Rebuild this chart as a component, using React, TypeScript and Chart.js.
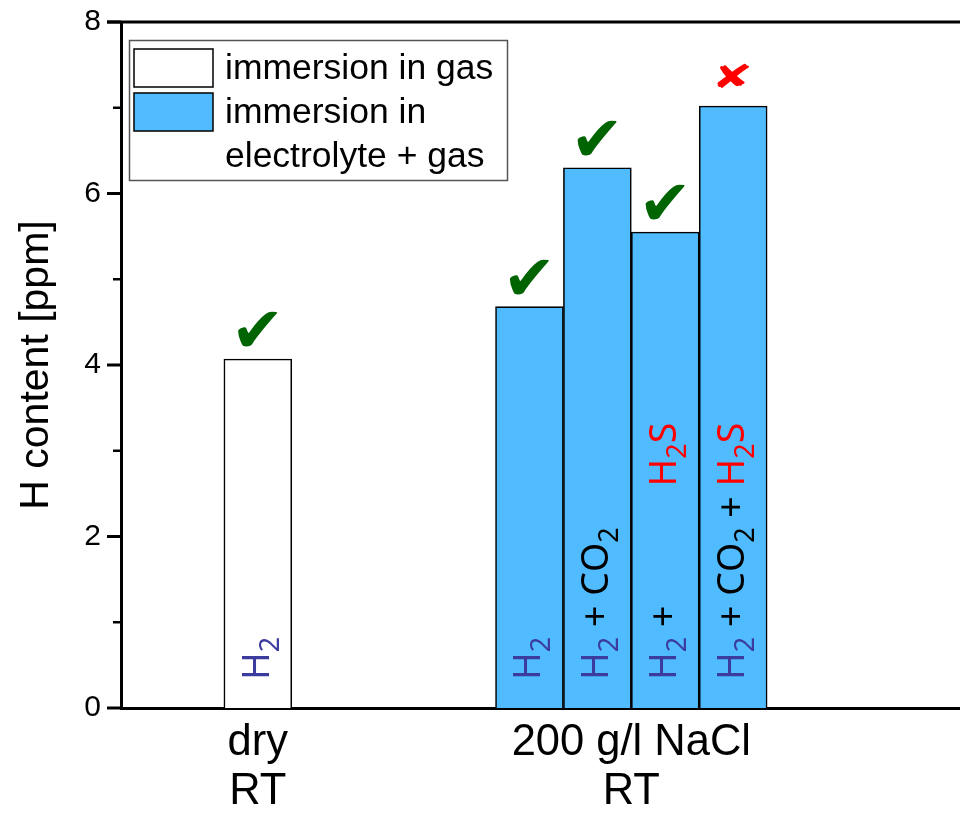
import React, { useEffect, useRef } from 'react';
import { Chart, registerables } from 'chart.js';

Chart.register(...registerables);

// ---- data ----
const categoryLabels: string[][] = [['dry', 'RT'], ['200 g/l NaCl', 'RT']];
const categoryCenters = [2, 7.5];
const seriesLabels = ['immersion in gas', 'immersion in\nelectrolyte + gas'];
const gasPositions = [2];
const gasValues = [4.07];
const electrolytePositions = [6, 7, 8, 9];
const electrolyteValues = [4.68, 6.3, 5.55, 7.02];
const yTickValues = [0, 2, 4, 6, 8];
const yMinorStep = 1;
// gas mixture per bar (dry first, then NaCl bars); "~" = placeholder kept invisible
const barGases: string[][] = [
  ['H2'],
  ['H2'],
  ['H2', '+', 'CO2'],
  ['H2', '+', '~CO2', '~+', 'H2S'],
  ['H2', '+', 'CO2', '+', 'H2S'],
];
const barVerdicts = ['ok', 'ok', 'ok', 'ok', 'fail'];

// ---- styles ----
const SANS = '"Liberation Sans", Arial, sans-serif';
const NOTO = '"Noto Sans", "DejaVu Sans", sans-serif';
const BLUE = '#50bcff';
const NAVY = '#3c3c9e';
const RED = '#ff0000';
const GREEN = '#006400';
const MAIN_FONT = `37.5px ${NOTO}`;
const SUB_FONT = `27px ${NOTO}`;

function drawMix(ctx: CanvasRenderingContext2D, tokens: string[], ox: number, oy: number) {
  ctx.save();
  ctx.translate(ox, oy);
  ctx.rotate(-Math.PI / 2);
  ctx.textAlign = 'left';
  ctx.textBaseline = 'alphabetic';
  let pos = 0;
  tokens.forEach((raw, ti) => {
    const hidden = raw.startsWith('~');
    const tok = hidden ? raw.slice(1) : raw;
    if (ti > 0) {
      ctx.font = MAIN_FONT;
      pos += ctx.measureText(' ').width;
    }
    const color = tok === 'H2' ? NAVY : tok === 'H2S' ? RED : '#000';
    for (const ch of tok) {
      const sub = /\d/.test(ch);
      ctx.font = sub ? SUB_FONT : MAIN_FONT;
      if (!hidden) {
        ctx.fillStyle = color;
        ctx.fillText(ch, pos, sub ? 10 : 0);
      }
      pos += ctx.measureText(ch).width;
    }
  });
  ctx.restore();
}

const decorPlugin = {
  id: 'decor',
  afterDatasetsDraw(chart: any) {
    const { ctx, chartArea } = chart;
    const bars = [
      ...chart.getDatasetMeta(0).data,
      ...chart.getDatasetMeta(1).data,
    ];
    bars.forEach((bar: any, i: number) => {
      drawMix(ctx, barGases[i], bar.x + 11, chartArea.bottom - 28);
    });
    bars.forEach((bar: any, i: number) => {
      const ok = barVerdicts[i] === 'ok';
      const glyph = ok ? '\u2714' : '\u2718';
      ctx.save();
      ctx.font = ok ? `64px "DejaVu Sans"` : `40px "DejaVu Sans"`;
      ctx.fillStyle = ok ? GREEN : RED;
      ctx.textAlign = 'left';
      ctx.textBaseline = 'alphabetic';
      const m = ctx.measureText(glyph);
      const w = m.actualBoundingBoxLeft + m.actualBoundingBoxRight;
      const gap = ok ? 12 : 18;
      const sx = ok ? 1 : 1.25;
      const sy = ok ? 1 : 0.82;
      ctx.translate(bar.x, bar.y - gap);
      ctx.scale(sx, sy);
      ctx.fillText(glyph, -w / 2 + m.actualBoundingBoxLeft, -m.actualBoundingBoxDescent);
      ctx.restore();
    });
  },
  afterDraw(chart: any) {
    const { ctx, chartArea } = chart;
    const yScale = chart.scales.y;
    ctx.save();
    ctx.strokeStyle = '#000';
    ctx.lineWidth = 3;
    ctx.beginPath();
    ctx.moveTo(chartArea.left - 14, chartArea.top);
    ctx.lineTo(chartArea.right, chartArea.top);
    ctx.stroke();
    for (let v = yScale.min; v <= yScale.max + 1e-9; v += yMinorStep) {
      const major = yTickValues.includes(v);
      const py = yScale.getPixelForValue(v);
      ctx.lineWidth = major ? 3 : 2.5;
      ctx.beginPath();
      ctx.moveTo(chartArea.left - (major ? 14 : 8), py);
      ctx.lineTo(chartArea.left, py);
      ctx.stroke();
    }
    // legend box
    const bx = chartArea.left + 8;
    const by = chartArea.top + 18;
    ctx.lineWidth = 1.5;
    ctx.strokeStyle = '#555';
    ctx.strokeRect(bx + 0.5, by + 0.5, 378, 140);
    const ds = chart.data.datasets;
    const swatchY = [by + 9, by + 53];
    const lineH = 44;
    let line = 0;
    ctx.font = `35.5px ${SANS}`;
    ctx.textBaseline = 'middle';
    ctx.textAlign = 'left';
    ds.forEach((d: any, i: number) => {
      ctx.fillStyle = d.backgroundColor;
      ctx.fillRect(bx + 5, swatchY[i], 79, 38);
      ctx.strokeStyle = '#000';
      ctx.lineWidth = 1.5;
      ctx.strokeRect(bx + 5, swatchY[i], 79, 38);
      const lines = String(d.label).split('\n');
      lines.forEach((t) => {
        ctx.fillStyle = '#000';
        ctx.fillText(t, bx + 96, by + 29 + line * lineH);
        line++;
      });
    });
    ctx.restore();
  },
};

export default function App() {
  const ref = useRef<HTMLCanvasElement | null>(null);
  useEffect(() => {
    if (!ref.current) return;
    const chart = new Chart(ref.current, {
      type: 'bar',
      data: {
        datasets: [
          {
            label: seriesLabels[0],
            data: gasPositions.map((x, i) => ({ x, y: gasValues[i] })),
            backgroundColor: '#ffffff',
            borderColor: '#000',
            borderWidth: 1.6,
            borderSkipped: 'start',
            grouped: false,
            barPercentage: 1,
            categoryPercentage: 1,
          } as any,
          {
            label: seriesLabels[1],
            data: electrolytePositions.map((x, i) => ({ x, y: electrolyteValues[i] })),
            backgroundColor: BLUE,
            borderColor: '#000',
            borderWidth: 1.6,
            borderSkipped: 'start',
            grouped: false,
            barPercentage: 1,
            categoryPercentage: 1,
          } as any,
        ],
      },
      options: {
        animation: false,
        responsive: false,
        layout: { padding: { top: 22, right: 0, bottom: 0, left: 0 } },
        plugins: { legend: { display: false }, tooltip: { enabled: false } },
        scales: {
          x: {
            type: 'linear',
            offset: false,
            min: -0.015,
            max: 12.34,
            grid: { display: false, drawTicks: false, offset: false },
            border: { display: true, width: 3, color: '#000' },
            afterBuildTicks: (s: any) => {
              s.ticks = categoryCenters.map((v) => ({ value: v }));
            },
            afterFit: (s: any) => {
              s.height = 106;
              s.paddingLeft = 0;
              s.paddingRight = 0;
            },
            ticks: {
              autoSkip: false,
              maxRotation: 0,
              color: '#000',
              padding: 11,
              font: { family: SANS, size: 43.5, lineHeight: 1.12 },
              callback: (_v: any, i: number) => categoryLabels[i],
            },
          },
          y: {
            min: 0,
            max: 8,
            grid: { display: false, drawTicks: false },
            border: { display: true, width: 3, color: '#000' },
            afterBuildTicks: (s: any) => {
              s.ticks = yTickValues.map((v) => ({ value: v }));
            },
            afterFit: (s: any) => {
              s.width = 121;
              s.paddingTop = 0;
              s.paddingBottom = 0;
            },
            ticks: {
              color: '#000',
              padding: 20,
              font: { family: SANS, size: 30 },
            },
            title: {
              display: true,
              text: 'H content [ppm]',
              color: '#000',
              font: { family: SANS, size: 41 },
              padding: { top: 12, bottom: 0 },
            },
          },
        },
      } as any,
      plugins: [decorPlugin],
    });
    return () => chart.destroy();
  }, []);
  return (
    <div style={{ position: 'absolute', left: 0, top: 0, width: 960, height: 814, background: '#fff' }}>
      <canvas ref={ref} width={960} height={814} style={{ width: 960, height: 814, display: 'block' }} />
    </div>
  );
}
